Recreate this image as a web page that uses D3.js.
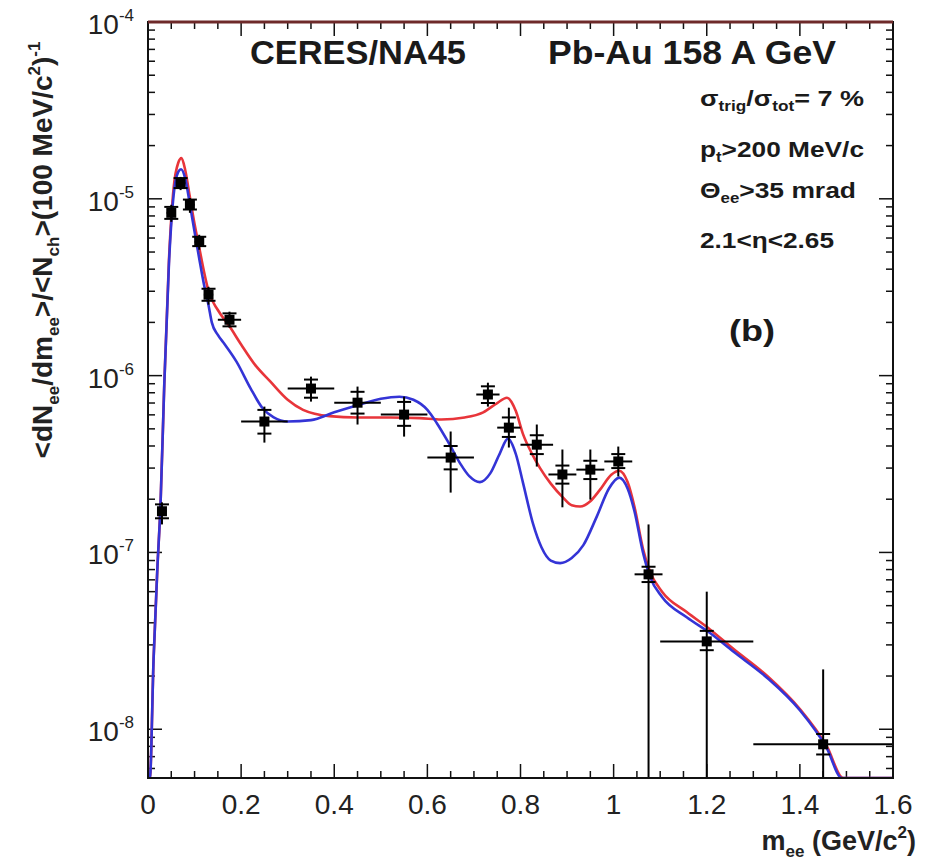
<!DOCTYPE html>
<html>
<head>
<meta charset="utf-8">
<script src="https://cdn.jsdelivr.net/npm/d3@7"></script>
<style>
	body { margin: 0; background: #fff; }
	svg { display: block; font-family: "Liberation Sans", Arial, Helvetica, sans-serif; }
</style>
</head>
<body>
<svg id="chart" width="931" height="862"></svg>
<script>
// CERES/NA45 data points: pair mass, bin half width, yield
var mass = [0.03, 0.05, 0.07, 0.09, 0.11, 0.13, 0.175, 0.25, 0.35, 0.45, 0.55, 0.65, 0.73, 0.775, 0.835, 0.89, 0.95, 1.01, 1.075, 1.2, 1.45];
var halfWidth = [0.01, 0.01, 0.01, 0.01, 0.01, 0.01, 0.025, 0.05, 0.05, 0.05, 0.05, 0.05, 0.025, 0.025, 0.035, 0.03, 0.03, 0.03, 0.03, 0.1, 0.15];
var yieldVal = [1.71e-7, 8.33e-6, 1.23e-5, 9.25e-6, 5.71e-6, 2.87e-6, 2.07e-6, 5.5e-7, 8.45e-7, 7.03e-7, 6.02e-7, 3.44e-7, 7.82e-7, 5.08e-7, 4.07e-7, 2.76e-7, 2.94e-7, 3.27e-7, 7.52e-8, 3.14e-8, 8.22e-9];
// statistical error bar ends
var statHi = [1.92e-7, 9.25e-6, 1.33e-5, 1.01e-5, 6.26e-6, 3.18e-6, 2.3e-6, 6.68e-7, 9.87e-7, 8.67e-7, 7.61e-7, 4.83e-7, 9.12e-7, 6.59e-7, 5.29e-7, 3.82e-7, 3.82e-7, 3.97e-7, 1.44e-7, 6.0e-8, 2.18e-8];
var statLo = [1.44e-7, 7.41e-6, 1.12e-5, 8.33e-6, 5.15e-6, 2.52e-6, 1.87e-6, 4.18e-7, 7.13e-7, 5.29e-7, 4.52e-7, 2.18e-7, 6.68e-7, 3.92e-7, 3.06e-7, 1.8e-7, 1.99e-7, 2.69e-7, 1e-9, 1e-9, 1e-9];
// systematic error brackets
var sysHi = [1.87e-7, 9.0e-6, 1.31e-5, 9.9e-6, 6.1e-6, 3.1e-6, 2.25e-6, 6.4e-7, 9.5e-7, 8.1e-7, 7.1e-7, 4.0e-7, 8.7e-7, 5.8e-7, 4.6e-7, 3.1e-7, 3.3e-7, 3.6e-7, 8.3e-8, 3.6e-8, 9.4e-9];
var sysLo = [1.56e-7, 7.7e-6, 1.15e-5, 8.7e-6, 5.4e-6, 2.65e-6, 1.9e-6, 4.7e-7, 7.5e-7, 6.1e-7, 5.2e-7, 2.95e-7, 7.0e-7, 4.5e-7, 3.6e-7, 2.45e-7, 2.6e-7, 3.0e-7, 6.8e-8, 2.8e-8, 7.2e-9];

// model curves [mass, yield]
var redCurve = [[0.0, 1e-9], [0.004, 5e-9], [0.012, 2.5e-8], [0.02, 8e-8], [0.027, 1.9e-7], [0.035, 9e-7], [0.045, 4.5e-6], [0.055, 1.15e-5], [0.065, 1.6e-5], [0.072, 1.7e-5], [0.08, 1.45e-5], [0.09, 1.02e-5], [0.1, 7.2e-6], [0.11, 5.3e-6], [0.12, 3.9e-6], [0.13, 3.0e-6], [0.15, 2.35e-6], [0.175, 1.9e-6], [0.2, 1.5e-6], [0.23, 1.15e-6], [0.262, 9.3e-7], [0.3, 7.3e-7], [0.333, 6.4e-7], [0.39, 5.9e-7], [0.45, 5.8e-7], [0.52, 5.8e-7], [0.584, 5.75e-7], [0.63, 5.65e-7], [0.68, 5.8e-7], [0.72, 6.2e-7], [0.75, 7.0e-7], [0.771, 7.5e-7], [0.79, 6.3e-7], [0.805, 4.7e-7], [0.825, 3.6e-7], [0.842, 3.0e-7], [0.865, 2.45e-7], [0.891, 2.05e-7], [0.91, 1.85e-7], [0.928, 1.82e-7], [0.95, 1.95e-7], [0.97, 2.25e-7], [0.995, 2.75e-7], [1.012, 2.9e-7], [1.03, 2.5e-7], [1.045, 1.8e-7], [1.063, 1.05e-7], [1.078, 7.8e-8], [1.104, 6.0e-8], [1.157, 4.6e-8], [1.207, 3.67e-8], [1.257, 2.85e-8], [1.33, 2.0e-8], [1.4, 1.3e-8], [1.458, 8.0e-9], [1.493, 5e-9], [1.52, 3e-9], [1.6, 1e-9]];
var blueCurve = [[0.0, 1e-9], [0.004, 5e-9], [0.012, 2.5e-8], [0.02, 8e-8], [0.027, 1.9e-7], [0.035, 9e-7], [0.045, 4.3e-6], [0.055, 1.05e-5], [0.065, 1.42e-5], [0.071, 1.47e-5], [0.08, 1.3e-5], [0.09, 9.3e-6], [0.1, 6.5e-6], [0.11, 4.6e-6], [0.12, 3.3e-6], [0.13, 2.5e-6], [0.137, 2.0e-6], [0.15, 1.7e-6], [0.165, 1.5e-6], [0.19, 1.2e-6], [0.22, 8.5e-7], [0.245, 6.6e-7], [0.27, 5.8e-7], [0.3, 5.5e-7], [0.35, 5.6e-7], [0.4, 6.2e-7], [0.45, 6.8e-7], [0.5, 7.4e-7], [0.54, 7.6e-7], [0.57, 7.3e-7], [0.6, 6.4e-7], [0.62, 5.4e-7], [0.645, 4.2e-7], [0.67, 3.2e-7], [0.69, 2.7e-7], [0.713, 2.5e-7], [0.735, 2.8e-7], [0.755, 3.6e-7], [0.773, 4.4e-7], [0.79, 3.6e-7], [0.805, 2.5e-7], [0.827, 1.45e-7], [0.845, 1.07e-7], [0.865, 9.0e-8], [0.885, 8.7e-8], [0.91, 9.3e-8], [0.935, 1.1e-7], [0.964, 1.6e-7], [0.99, 2.3e-7], [1.012, 2.65e-7], [1.03, 2.3e-7], [1.045, 1.7e-7], [1.063, 1.0e-7], [1.078, 7.3e-8], [1.104, 5.6e-8], [1.157, 4.3e-8], [1.207, 3.5e-8], [1.257, 2.75e-8], [1.33, 1.95e-8], [1.4, 1.28e-8], [1.458, 7.8e-9], [1.49, 5e-9], [1.52, 3e-9], [1.6, 1e-9]];

// axis ticks
var xMajor = [0, 0.2, 0.4, 0.6, 0.8, 1, 1.2, 1.4, 1.6];
var xTickLabels = ["0", "0.2", "0.4", "0.6", "0.8", "1", "1.2", "1.4", "1.6"];
var yDecades = [-8, -7, -6, -5, -4];

var margin = {top: 22, right: 38, bottom: 84, left: 148};
var svg = d3.select("#chart"),
	width = +svg.attr("width") - margin.left - margin.right,
	height = +svg.attr("height") - margin.top - margin.bottom;

var x = d3.scaleLinear().domain([0, 1.6]).range([0, width]);
var y = d3.scaleLog().domain([5.3e-9, 1e-4]).range([height, 0]).clamp(true);

var g = svg.append("g").attr("transform", "translate(" + margin.left + "," + margin.top + ")");

svg.append("defs").append("clipPath").attr("id", "plotClip")
	.append("rect").attr("width", width).attr("height", height);

// ---- ticks, drawn inward on all four sides (ROOT style)
var majLen = 14, minLen = 7;
var xMinor = d3.range(0, 1.6001, 0.05).filter(function(v) { return Math.abs(v / 0.2 - Math.round(v / 0.2)) > 1e-6; });
var yMinor = [];
yDecades.forEach(function(e) {
	for (var k = 2; k <= 9; k++) {
		var v = k * Math.pow(10, e - 1);
		if (v >= 5.3e-9 && v < 1e-4) yMinor.push(v);
	}
});

var ticks = g.append("g").attr("stroke", "#111").attr("stroke-width", 1.5);
function xTick(v, len) {
	ticks.append("line").attr("x1", x(v)).attr("x2", x(v)).attr("y1", height).attr("y2", height - len);
	ticks.append("line").attr("x1", x(v)).attr("x2", x(v)).attr("y1", 0).attr("y2", len);
}
function yTick(v, len) {
	ticks.append("line").attr("x1", 0).attr("x2", len).attr("y1", y(v)).attr("y2", y(v));
	ticks.append("line").attr("x1", width).attr("x2", width - len).attr("y1", y(v)).attr("y2", y(v));
}
xMajor.forEach(function(v) { xTick(v, majLen); });
xMinor.forEach(function(v) { xTick(v, minLen); });
yDecades.forEach(function(e) { yTick(Math.pow(10, e), majLen); });
yMinor.forEach(function(v) { yTick(v, minLen); });

// ---- tick labels
g.append("g").selectAll("text")
	.data(xMajor)
	.enter().append("text")
	.attr("x", function(d) { return x(d); })
	.attr("y", height + 36)
	.attr("text-anchor", "middle")
	.attr("font-size", 28)
	.attr("fill", "#222")
	.text(function(d, i) { return xTickLabels[i]; });

var yl = g.append("g").selectAll("text")
	.data(yDecades)
	.enter().append("text")
	.attr("x", -14)
	.attr("y", function(d) { return y(Math.pow(10, d)) + 12; })
	.attr("text-anchor", "end")
	.attr("font-size", 28)
	.attr("fill", "#222");
yl.append("tspan").text("10");
yl.append("tspan").attr("font-size", 17).attr("dy", -13).text(function(d) { return d; });

// ---- model curves
var line = d3.line()
	.x(function(d) { return x(d[0]); })
	.y(function(d) { return y(d[1]); })
	.curve(d3.curveMonotoneX);

var curves = g.append("g").attr("clip-path", "url(#plotClip)");
curves.append("path").datum(redCurve)
	.attr("d", line).attr("fill", "none")
	.attr("stroke", "#e8353a").attr("stroke-width", 2.6);
curves.append("path").datum(blueCurve)
	.attr("d", line).attr("fill", "none")
	.attr("stroke", "#3434d6").attr("stroke-width", 2.6);

// ---- data points with stat bars, bin widths and systematic brackets
var pts = mass.map(function(m, i) {
	return {m: m, hw: halfWidth[i], v: yieldVal[i], sh: statHi[i], sl: statLo[i], yh: sysHi[i], yo: sysLo[i]};
});
var pg = g.append("g").attr("stroke", "#000").attr("stroke-width", 2);
var p = pg.selectAll("g").data(pts).enter().append("g");
p.append("line")
	.attr("x1", function(d) { return x(d.m); }).attr("x2", function(d) { return x(d.m); })
	.attr("y1", function(d) { return y(d.sh); }).attr("y2", function(d) { return y(d.sl); });
p.append("line")
	.attr("x1", function(d) { return x(d.m - d.hw); }).attr("x2", function(d) { return x(d.m + d.hw); })
	.attr("y1", function(d) { return y(d.v); }).attr("y2", function(d) { return y(d.v); });
p.append("line")
	.attr("x1", function(d) { return x(d.m) - 7; }).attr("x2", function(d) { return x(d.m) + 7; })
	.attr("y1", function(d) { return y(d.yh); }).attr("y2", function(d) { return y(d.yh); });
p.append("line")
	.attr("x1", function(d) { return x(d.m) - 7; }).attr("x2", function(d) { return x(d.m) + 7; })
	.attr("y1", function(d) { return y(d.yo); }).attr("y2", function(d) { return y(d.yo); });
p.append("rect")
	.attr("x", function(d) { return x(d.m) - 5; })
	.attr("y", function(d) { return y(d.v) - 5; })
	.attr("width", 10).attr("height", 10)
	.attr("fill", "#000").attr("stroke", "none");

// ---- frame
g.append("rect").attr("width", width).attr("height", height)
	.attr("fill", "none").attr("stroke", "#111").attr("stroke-width", 2);
g.append("line").attr("x1", 0).attr("x2", width).attr("y1", 0).attr("y2", 0)
	.attr("stroke", "#6e2a2a").attr("stroke-width", 3);

// ---- axis titles
var xt = svg.append("text")
	.attr("x", 916).attr("y", 850)
	.attr("text-anchor", "end")
	.attr("font-size", 27).attr("font-weight", "bold").attr("fill", "#222");
xt.append("tspan").text("m");
xt.append("tspan").attr("font-size", 17).attr("dy", 7).text("ee");
xt.append("tspan").attr("dy", -7).text(" (GeV/c");
xt.append("tspan").attr("font-size", 17).attr("dy", -12).text("2");
xt.append("tspan").attr("dy", 12).text(")");

var yt = svg.append("text")
	.attr("transform", "translate(52,250) rotate(-90)")
	.attr("text-anchor", "middle")
	.attr("font-size", 28).attr("font-weight", "bold").attr("fill", "#222");
yt.append("tspan").text("<dN");
yt.append("tspan").attr("font-size", 17).attr("dy", 7).text("ee");
yt.append("tspan").attr("dy", -7).text("/dm");
yt.append("tspan").attr("font-size", 17).attr("dy", 7).text("ee");
yt.append("tspan").attr("dy", -7).text(">/<N");
yt.append("tspan").attr("font-size", 17).attr("dy", 7).text("ch");
yt.append("tspan").attr("dy", -7).text(">(100 MeV/c");
yt.append("tspan").attr("font-size", 17).attr("dy", -12).text("2");
yt.append("tspan").attr("dy", 12).text(")");
yt.append("tspan").attr("font-size", 17).attr("dy", -12).text("-1");

// ---- labels inside the frame
svg.append("text").attr("x", 250).attr("y", 64)
	.attr("font-size", 33).attr("font-weight", "bold").attr("fill", "#1a1a1a")
	.attr("textLength", 216).attr("lengthAdjust", "spacingAndGlyphs")
	.text("CERES/NA45");
svg.append("text").attr("x", 548).attr("y", 64)
	.attr("font-size", 33).attr("font-weight", "bold").attr("fill", "#1a1a1a")
	.attr("textLength", 288).attr("lengthAdjust", "spacingAndGlyphs")
	.text("Pb-Au 158 A GeV");

var info = svg.append("g").attr("font-size", 22).attr("font-weight", "bold").attr("fill", "#1a1a1a");
var t1 = info.append("text").attr("x", 700).attr("y", 106)
	.attr("textLength", 164).attr("lengthAdjust", "spacingAndGlyphs");
t1.append("tspan").text("σ");
t1.append("tspan").attr("font-size", 14).attr("dy", 5).text("trig");
t1.append("tspan").attr("dy", -5).text("/σ");
t1.append("tspan").attr("font-size", 14).attr("dy", 5).text("tot");
t1.append("tspan").attr("dy", -5).text("= 7 %");
var t2 = info.append("text").attr("x", 700).attr("y", 157)
	.attr("textLength", 164).attr("lengthAdjust", "spacingAndGlyphs");
t2.append("tspan").text("p");
t2.append("tspan").attr("font-size", 14).attr("dy", 5).text("t");
t2.append("tspan").attr("dy", -5).text(">200 MeV/c");
var t3 = info.append("text").attr("x", 700).attr("y", 198)
	.attr("textLength", 156).attr("lengthAdjust", "spacingAndGlyphs");
t3.append("tspan").text("Θ");
t3.append("tspan").attr("font-size", 14).attr("dy", 5).text("ee");
t3.append("tspan").attr("dy", -5).text(">35 mrad");
info.append("text").attr("x", 700).attr("y", 248)
	.attr("textLength", 134).attr("lengthAdjust", "spacingAndGlyphs")
	.text("2.1<η<2.65");

svg.append("text").attr("x", 729).attr("y", 341)
	.attr("font-size", 30).attr("font-weight", "bold").attr("fill", "#1a1a1a")
	.attr("textLength", 46).attr("lengthAdjust", "spacingAndGlyphs")
	.text("(b)");
</script>
</body>
</html>
